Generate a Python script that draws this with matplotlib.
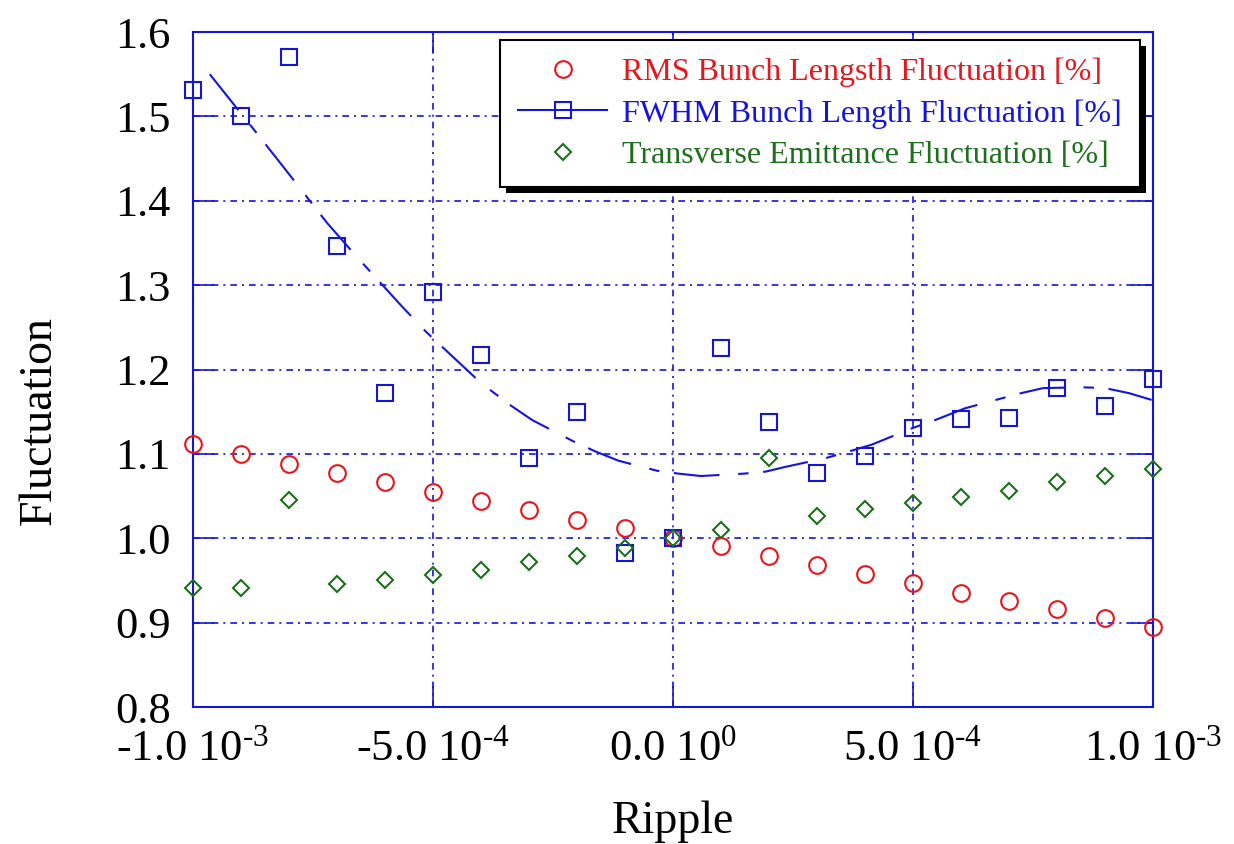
import numpy as np
import matplotlib
matplotlib.use("Agg")
import matplotlib.pyplot as plt
from matplotlib.lines import Line2D
from matplotlib.patches import Rectangle
from matplotlib.transforms import IdentityTransform

plt.rcParams['font.family'] = ['Liberation Serif', 'DejaVu Serif']
plt.rcParams['mathtext.fontset'] = 'custom'
plt.rcParams['mathtext.rm'] = 'Liberation Serif'
plt.rcParams['mathtext.it'] = 'Liberation Serif:italic'

# Ripple values (measurement points)
ripple = [-1.0e-3, -0.9e-3, -0.8e-3, -0.7e-3, -0.6e-3, -0.5e-3, -0.4e-3,
          -0.3e-3, -0.2e-3, -0.1e-3, 0.0, 0.1e-3, 0.2e-3, 0.3e-3, 0.4e-3,
          0.5e-3, 0.6e-3, 0.7e-3, 0.8e-3, 0.9e-3, 1.0e-3]

rms_len = [1.112, 1.0995, 1.0885, 1.0777, 1.0666, 1.0547, 1.0443,
           1.0337, 1.0218, 1.0119, 1.0, 0.9905, 0.979, 0.9686, 0.9575,
           0.9468, 0.9357, 0.9257, 0.9158, 0.906, 0.8953]

fwhm_len = [1.531, 1.501, 1.570, 1.3465, 1.1718, 1.292, 1.217,
            1.095, 1.150, 0.9825, 1.0, 1.226, 1.138, 1.077, 1.098,
            1.131, 1.141, 1.143, 1.178, 1.157, 1.189]

emit = [0.9405, 0.9405, 1.0448, 0.9456, 0.9507, 0.957, 0.9622,
        0.9714, 0.979, 0.988, 1.0, 1.0099, 1.095, 1.026, 1.0349,
        1.042, 1.0487, 1.0558, 1.067, 1.0736, 1.0823]

# fitted curve through the FWHM data
fit_x = [-0.965e-3, -0.86e-3, -0.806e-3, -0.721e-3, -0.661e-3, -0.565e-3,
         -0.515e-3, -0.4e-3, -0.337e-3, -0.293e-3, -0.208e-3, -0.162e-3,
         -0.114e-3, -0.033e-3, 0.012e-3, 0.058e-3, 0.147e-3, 0.193e-3,
         0.233e-3, 0.318e-3, 0.373e-3, 0.414e-3, 0.496e-3, 0.55e-3,
         0.608e-3, 0.679e-3, 0.725e-3, 0.771e-3, 0.852e-3, 0.90e-3,
         0.95e-3, 0.997e-3]
fit_y = [1.550, 1.475, 1.436, 1.374, 1.335, 1.275, 1.245, 1.184, 1.157,
         1.140, 1.115, 1.103, 1.092, 1.080, 1.0766, 1.0738, 1.0766, 1.079,
         1.0845, 1.095, 1.104, 1.111, 1.130, 1.141, 1.154, 1.165, 1.172,
         1.178, 1.179, 1.178, 1.172, 1.164]

xticks = [-1.0e-3, -0.5e-3, 0.0, 0.5e-3, 1.0e-3]
xtick_labels = [r'-1.0 10$^{\text{-3}}$', r'-5.0 10$^{\text{-4}}$',
                r'0.0 10$^{\text{0}}$', r'5.0 10$^{\text{-4}}$',
                r'1.0 10$^{\text{-3}}$']
yticks = [0.8, 0.9, 1.0, 1.1, 1.2, 1.3, 1.4, 1.5, 1.6]

red = '#e8161c'
blue = '#1414dc'
green = '#1d6e1d'

fig = plt.figure(figsize=(12.34, 8.44), dpi=100)
ax = fig.add_axes([0.1564, 0.1623, 0.778, 0.7997])

ax.plot(ripple, rms_len, ls='none', marker='o', ms=12, mfc='none',
        mec=red, mew=1.5, zorder=3, clip_on=False)
ax.plot(ripple, fwhm_len, ls='none', marker='s', ms=12, mfc='none',
        mec=blue, mew=1.5, zorder=3, clip_on=False)
ax.plot(ripple, emit, ls='none', marker='D', ms=8.5, mfc='none',
        mec=green, mew=1.5, zorder=3, clip_on=False)
ax.plot(fit_x, fit_y, color=blue, lw=1.5, dashes=(22, 9, 5, 7), zorder=2)

ax.set_xlim(-1.0e-3, 1.0e-3)
ax.set_ylim(0.8, 1.6)
ax.set_xticks(xticks)
ax.set_xticklabels(xtick_labels)
ax.set_yticks(yticks)
ax.set_yticklabels(['%.1f' % v for v in yticks])

ax.tick_params(axis='both', direction='in', length=15, width=1.2,
               color=blue, labelsize=32, top=True, right=True)
ax.tick_params(axis='y', pad=16)
ax.tick_params(axis='x', pad=16)
for sp in ax.spines.values():
    sp.set_color(blue)
    sp.set_linewidth(1.5)

ax.grid(True, color=blue, lw=1.2, ls=(0, (4, 3, 1.2, 3)))

ax.set_xlabel('Ripple', fontsize=33)
ax.set_ylabel('Fluctuation', fontsize=33)
ax.xaxis.set_label_coords(0.5, -0.138)
ax.yaxis.set_label_coords(-0.138, 0.425)

handles = [
    Line2D([], [], ls='none', marker='o', ms=12, mfc='none', mec=red, mew=1.5),
    Line2D([], [], ls='-', lw=1.5, color=blue, marker='s', ms=12,
           mfc='none', mec=blue, mew=1.5),
    Line2D([], [], ls='none', marker='D', ms=8.5, mfc='none', mec=green, mew=1.5),
]
labels = ['RMS Bunch Lengsth Fluctuation [%]',
          'FWHM Bunch Length Fluctuation [%]',
          'Transverse Emittance Fluctuation [%]']
leg = ax.legend(handles, labels, loc='upper right',
                bbox_to_anchor=(0.986, 0.988), borderaxespad=0,
                fontsize=23, frameon=True, fancybox=False, framealpha=1,
                edgecolor='black', handlelength=2.8, handletextpad=0.47,
                labelspacing=0.37, borderpad=0.55)
leg.get_frame().set_linewidth(1.5)
for txt, c in zip(leg.get_texts(), [red, blue, green]):
    txt.set_color(c)

# drop shadow behind the legend box
fig.canvas.draw()
bb = leg.get_window_extent()
shadow = Rectangle((bb.x0 + 6, bb.y0 - 6), bb.width, bb.height,
                   transform=IdentityTransform(), facecolor='black',
                   edgecolor='none', zorder=4.5)
ax.add_patch(shadow)

fig.savefig('out.png', dpi=100)
